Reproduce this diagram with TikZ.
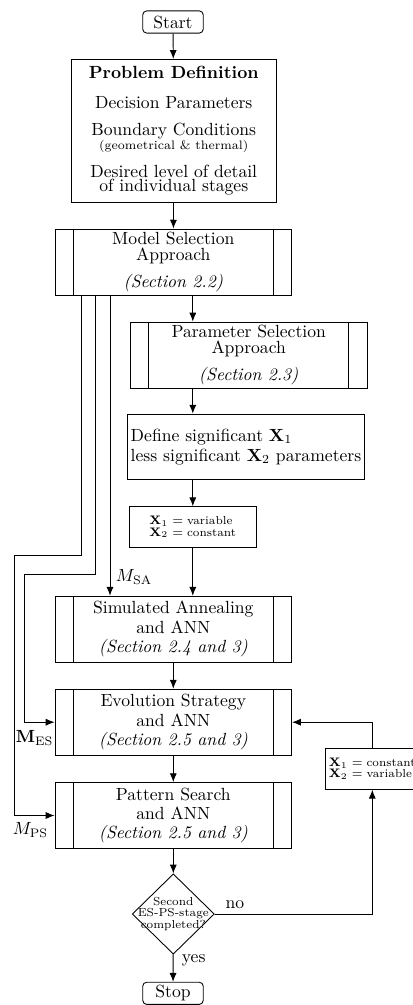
\documentclass[tikz,border=0pt]{standalone}
\usetikzlibrary{shapes.geometric,arrows.meta}
\begin{document}
\begin{tikzpicture}[x=0.568pt,y=-0.568pt,
  nodebase/.style={draw, line width=0.5pt, font=\fontsize{10}{12}\selectfont, inner sep=0pt, align=center},
  termbox/.style={nodebase, rounded corners=2.3pt, minimum width=34.4pt, minimum height=12.6pt},
  plainbox/.style={nodebase, rectangle},
  pproc/.style={nodebase, minimum width=134.4pt, minimum height=37.5pt,
    path picture={
      \draw[line width=0.5pt] ([xshift=10.5pt]path picture bounding box.north west) -- ([xshift=10.5pt]path picture bounding box.south west);
      \draw[line width=0.5pt] ([xshift=-10.5pt]path picture bounding box.north east) -- ([xshift=-10.5pt]path picture bounding box.south east);}},
  tinyf/.style={font=\fontsize{6.6}{6.6}\selectfont},
  lab/.style={font=\fontsize{10}{12}\selectfont, inner sep=0pt},
  arr/.style={-{Latex[length=5pt,width=4pt]}, line width=0.5pt},
  ln/.style={line width=0.5pt}]
\useasboundingbox (0,0) rectangle (413,1005);

\node[termbox] (start) at (173,22) {Start};
\node[plainbox, minimum width=116.8pt, minimum height=81.2pt] (prob) at (173.8,130.8)
  {\textbf{Problem Definition}\\[4.7pt]
   Decision Parameters\\[3.5pt]
   Boundary Conditions\\[-4pt]
   {\fontsize{7}{8}\selectfont (geometrical \& thermal)}\\[3.8pt]
   Desired level of detail\\[-3.8pt]
   of individual stages};
\node[pproc] (model) at (173.3,262) {Model Selection\\[-2.7pt] Approach\\[3.6pt] \textit{(Section 2.2)}};
\node[pproc] (param) at (248.7,355) {Parameter Selection\\[-2.7pt] Approach\\[3.6pt] \textit{(Section 2.3)}};
\node[plainbox, align=left, minimum width=134.4pt, minimum height=37.1pt] (define) at (246,446.7)
  {Define significant $\mathbf{X}_1$\\[-0.6pt] less significant $\mathbf{X}_2$ parameters};
\node[plainbox, tinyf, align=left, minimum width=72.5pt, minimum height=23.1pt] (xvar) at (192.8,527)
  {$\mathbf{X}_1 = \mbox{variable}$\\ $\mathbf{X}_2 = \mbox{constant}$};
\node[pproc] (sa) at (173.3,629.2) {Simulated Annealing\\[-1pt] and ANN\\[-1pt] \textit{(Section 2.4 and 3)}};
\node[pproc] (es) at (173.3,722.2) {Evolution Strategy\\[-1pt] and ANN\\[-1pt] \textit{(Section 2.5 and 3)}};
\node[pproc] (ps) at (173.3,815.5) {Pattern Search\\[-1pt] and ANN\\[-1pt] \textit{(Section 2.5 and 3)}};
\node[draw, diamond, aspect=1, line width=0.5pt, inner sep=0pt, minimum width=46.6pt, minimum height=45.6pt] (dia) at (173.3,914) {};
\node[tinyf, align=center, inner sep=0pt] (dtext) at (dia.center) {Second\\ES-PS-stage\\completed?};
\node[termbox] (stop) at (173,993.3) {Stop};
\node[plainbox, tinyf, align=left, minimum width=53.4pt, minimum height=23.3pt] (xconst) at (372.3,768.8)
  {$\mathbf{X}_1 = \mbox{constant}$\\ $\mathbf{X}_2 = \mbox{variable}$};

% branch coordinates
\coordinate (saX) at (110,0);
\coordinate (es1) at (95,574);
\coordinate (es2) at (24,574);
\coordinate (ps1) at (81.7,555.7);
\coordinate (ps2) at (14.3,555.7);

\draw[arr] (start) -- (prob);
\draw[arr] (prob) -- (model);
\draw[arr] (model.south -| xvar.north) -- (param.north -| xvar.north);
\draw[arr] (param.south -| xvar.north) -- (define.north -| xvar.north);
\draw[arr] (define.south -| xvar.north) -- (xvar.north);
\draw[arr] (xvar.south) -- (sa.north -| xvar.south);
\draw[arr] (model.south -| saX) -- (sa.north -| saX);
\draw[arr] (model.south -| es1) -- (es1) -- (es2) |- (es.west);
\draw[arr] (model.south -| ps1) -- (ps1) -- (ps2) |- (ps.west);
\draw[arr] (sa) -- (es);
\draw[arr] (es) -- (ps);
\draw[arr] (ps) -- (dia);
\draw[arr] (dia) -- (stop);
\draw[arr] (dia.east) -| (xconst.south);
\draw[arr] (xconst.north) |- (es.east);

\node[lab] (lsa) at (134,577) {$M_{\mathrm{SA}}$};
\node[lab] (les) at (34.5,738) {$\mathbf{M}_{\mathrm{ES}}$};
\node[lab] (lps) at (30.5,830) {$M_{\mathrm{PS}}$};
\node[lab] (lno) at (235,905) {no};
\node[lab] (lyes) at (193.7,960.5) {yes};
\end{tikzpicture}
\end{document}
